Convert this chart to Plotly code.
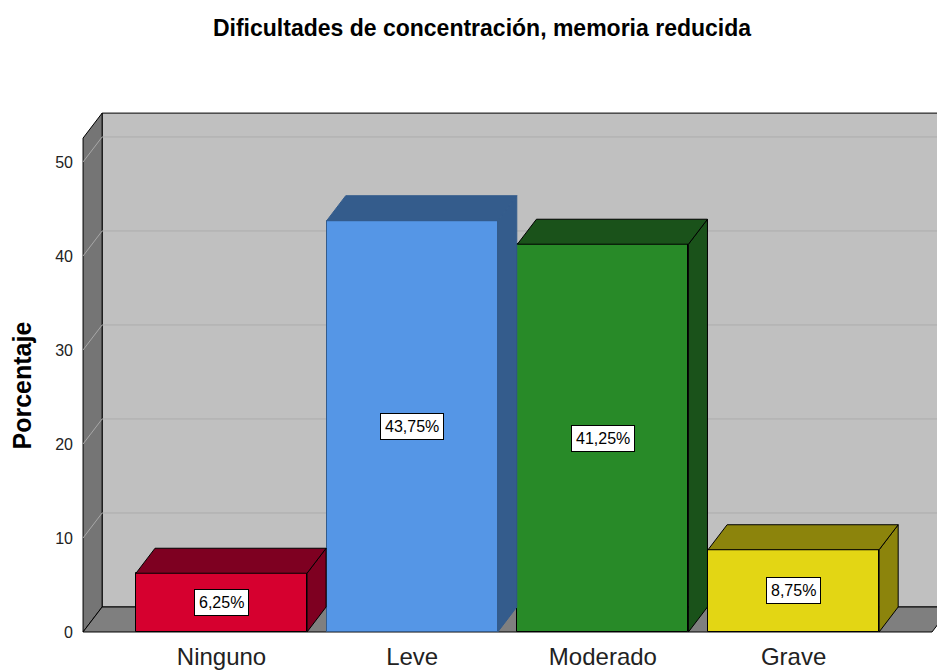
import plotly.graph_objects as go

# Datos
categorias = ["Ninguno", "Leve", "Moderado", "Grave"]
porcentajes = [6.25, 43.75, 41.25, 8.75]
etiquetas = ["6,25%", "43,75%", "41,25%", "8,75%"]
ticks_y = [0, 10, 20, 30, 40, 50]

# colores (frente / lados)
color_frente = ["#D6002F", "#5596E6", "#288A28", "#E3D614"]
color_lado = ["#7E0021", "#345C8C", "#1A521A", "#8C840C"]
color_borde = ["#000000", "#345C8C", "#000000", "#000000"]

# geometria del efecto 3D (en unidades de datos)
ANCHO = 0.897
PX = 0.10
PY = 2.66
X_LO, X_HI = -0.742, 3.836
Y_LO, Y_HI = -0.32, 55.53
XW = -0.726                 # pared izquierda (plano frontal)
YW = 52.54                  # alto de la pared en el plano frontal
XF = len(categorias) - 1 - XW

fig = go.Figure()

shapes = []
# pared del fondo
shapes.append(dict(type="rect", xref="x", yref="y", x0=XW + PX, x1=X_HI + 1,
                   y0=PY, y1=YW + PY, fillcolor="#C0C0C0",
                   line=dict(color="black", width=1), layer="below"))
# pared izquierda
shapes.append(dict(type="path", xref="x", yref="y",
                   path=f"M {XW},0 L {XW},{YW} L {XW + PX},{YW + PY} L {XW + PX},{PY} Z",
                   fillcolor="#757575", line=dict(color="black", width=1), layer="below"))
# lineas de cuadricula
for v in ticks_y[1:]:
    shapes.append(dict(type="line", xref="x", yref="y", x0=XW, y0=v, x1=XW + PX, y1=v + PY,
                       line=dict(color="#A8A8A8", width=1), layer="below"))
    shapes.append(dict(type="line", xref="x", yref="y", x0=XW + PX, y0=v + PY, x1=X_HI + 1, y1=v + PY,
                       line=dict(color="#ACACAC", width=1), layer="below"))
# suelo
shapes.append(dict(type="path", xref="x", yref="y",
                   path=f"M {XW},0 L {XF},0 L {XF + PX},{PY} L {XW + PX},{PY} Z",
                   fillcolor="#7F7F7F", line=dict(color="black", width=1), layer="below"))

xs = list(range(len(categorias)))

# caras frontales
fig.add_trace(go.Bar(
    x=xs, y=porcentajes, width=ANCHO,
    marker=dict(color=color_frente, line=dict(color=color_borde, width=1)),
    hoverinfo="skip", showlegend=False,
))

# caras superior y lateral
for i, v in enumerate(porcentajes):
    a = xs[i] - ANCHO / 2
    b = xs[i] + ANCHO / 2
    fig.add_trace(go.Scatter(
        x=[b, b, b + PX, b + PX, b], y=[0, v, v + PY, PY, 0],
        fill="toself", fillcolor=color_lado[i], mode="lines",
        line=dict(color=color_borde[i], width=1), hoverinfo="skip", showlegend=False))
    fig.add_trace(go.Scatter(
        x=[a, b, b + PX, a + PX, a], y=[v, v, v + PY, v + PY, v],
        fill="toself", fillcolor=color_lado[i], mode="lines",
        line=dict(color=color_borde[i], width=1), hoverinfo="skip", showlegend=False))

annotations = []
for i, v in enumerate(porcentajes):
    annotations.append(dict(x=xs[i], y=v / 2, xref="x", yref="y", text=etiquetas[i],
                            showarrow=False, bgcolor="white", bordercolor="black",
                            borderwidth=1, borderpad=4,
                            font=dict(family="Liberation Sans, Arial", size=16, color="black")))

# titulo del eje Y
annotations.append(dict(x=-0.066, y=0.476, xref="paper", yref="paper",
                        text="<b>Porcentaje</b>", textangle=-90, showarrow=False,
                        xanchor="center", yanchor="middle",
                        font=dict(size=25, color="black")))

fig.update_layout(
    width=945, height=671,
    margin=dict(l=72, r=0, t=102, b=44),
    paper_bgcolor="white", plot_bgcolor="white",
    shapes=shapes, annotations=annotations,
    font=dict(family="Liberation Sans, Arial", color="#222222"),
    title=dict(text="<b>Dificultades de concentración, memoria reducida</b>",
               x=0.5016, xanchor="center", y=0.970, yanchor="middle",
               font=dict(size=23, color="black")),
    xaxis=dict(range=[X_LO, X_HI], tickvals=xs, ticktext=categorias,
               showgrid=False, zeroline=False, showline=False, ticks="",
               ticklabelstandoff=5,
               tickfont=dict(size=24, color="#222222")),
    yaxis=dict(range=[Y_LO, Y_HI], tickvals=ticks_y, showgrid=False, zeroline=False,
               showline=False, ticks="", ticklabelstandoff=6,
               tickfont=dict(size=16, color="#222222")),
    bargap=0,
)

fig.write_html("out.html")
